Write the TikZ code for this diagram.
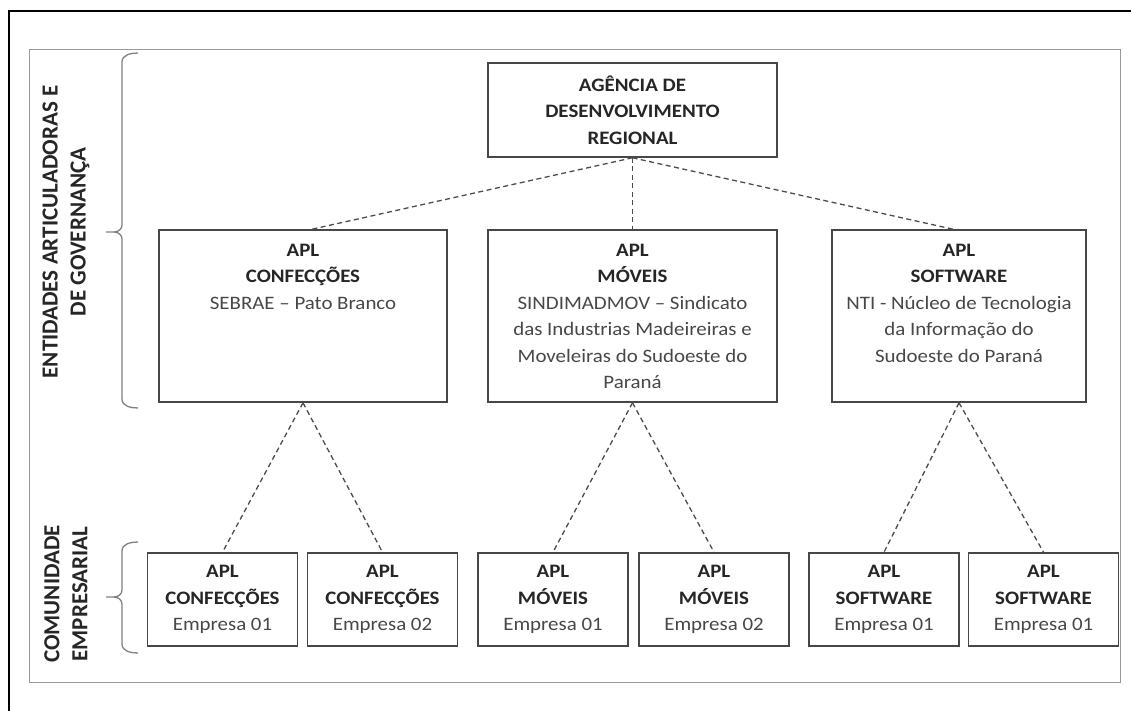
\documentclass[tikz,border=0pt]{standalone}
\usepackage{fontspec}
\setmainfont{Carlito}[FakeStretch=1.1]
\newfontfamily\sidefont{Carlito}
\usetikzlibrary{calc}
\definecolor{boxline}{gray}{0.28}
\definecolor{txtbold}{gray}{0.15}
\definecolor{txtreg}{gray}{0.28}
\definecolor{framegray}{gray}{0.6}
\definecolor{bracegray}{gray}{0.5}
\definecolor{conngray}{gray}{0.3}
\tikzset{
  box/.style={draw=boxline, line width=1.6pt, inner sep=0pt},
  bigbox/.style={box, minimum height=172pt},
  smallbox/.style={box, minimum width=150pt, minimum height=93pt, font=\fontsize{19}{26.5}\selectfont, align=center},
  boxtext/.style={font=\fontsize{19}{26.5}\selectfont, align=center, inner sep=0pt, anchor=north},
  conn/.style={draw=conngray, line width=1.3pt, dash pattern=on 5pt off 3.5pt},
  sidelabel/.style={rotate=90, align=center, font=\sidefont\bfseries\fontsize{23}{28}\selectfont, text=txtbold},
  bracepath/.style={draw=bracegray, line width=1.3pt}
}
\newcommand{\bt}[1]{\textcolor{txtbold}{\textbf{#1}}}
\newcommand{\rt}[1]{\textcolor{txtreg}{#1}}
\begin{document}
\begin{tikzpicture}[x=1pt,y=-1pt]
\useasboundingbox (0,0) rectangle (1131,711);
% outer frames
\draw[line width=2.5pt] (9,711) -- (9,11) -- (1131,11);
\draw[framegray, line width=1pt] (29,50) rectangle (1120,682);

% top box
\node[box, minimum width=289pt, minimum height=94pt, font=\fontsize{19}{26.5}\selectfont, align=center] (agr) at (632.5,110)
  {\bt{AGÊNCIA DE}\\\bt{DESENVOLVIMENTO}\\\bt{REGIONAL}};

% middle boxes
\node[bigbox, minimum width=288pt] (m1) at (303,316) {};
\node[bigbox, minimum width=289pt] (m2) at (632.5,316) {};
\node[bigbox, minimum width=254pt] (m3) at (959,316) {};
\node[boxtext] (m1t) at ($(m1.north)+(0,14.5)$) {\bt{APL}\\\bt{CONFECÇÕES}\\\rt{SEBRAE – Pato Branco}};
\node[boxtext] (m2t) at ($(m2.north)+(0,14.5)$) {\bt{APL}\\\bt{MÓVEIS}\\\rt{SINDIMADMOV – Sindicato}\\\rt{das Industrias Madeireiras e}\\\rt{Moveleiras do Sudoeste do}\\\rt{Paraná}};
\node[boxtext] (m3t) at ($(m3.north)+(0,14.5)$) {\bt{APL}\\\bt{SOFTWARE}\\\rt{NTI - Núcleo de Tecnologia}\\\rt{da Informação do}\\\rt{Sudoeste do Paraná}};

% bottom boxes
\node[smallbox] (b1) at (222.5,599.5) {\bt{APL}\\\bt{CONFECÇÕES}\\\rt{Empresa 01}};
\node[smallbox] (b2) at (382.5,599.5) {\bt{APL}\\\bt{CONFECÇÕES}\\\rt{Empresa 02}};
\node[smallbox] (b3) at (553,599.5) {\bt{APL}\\\bt{MÓVEIS}\\\rt{Empresa 01}};
\node[smallbox] (b4) at (714,599.5) {\bt{APL}\\\bt{MÓVEIS}\\\rt{Empresa 02}};
\node[smallbox] (b5) at (884,599.5) {\bt{APL}\\\bt{SOFTWARE}\\\rt{Empresa 01}};
\node[smallbox] (b6) at (1043.5,599.5) {\bt{APL}\\\bt{SOFTWARE}\\\rt{Empresa 01}};

% connectors
\draw[conn] (agr.south) -- ([xshift=9pt]m1.north);
\draw[conn] (agr.south) -- (m2.north);
\draw[conn] (agr.south) -- ([xshift=-6pt]m3.north);
\draw[conn] (m1.south) -- (b1.north);
\draw[conn] (m1.south) -- (b2.north);
\draw[conn] (m2.south) -- (b3.north);
\draw[conn] (m2.south) -- (b4.north);
\draw[conn] (m3.south) -- (b5.north);
\draw[conn] (m3.south) -- (b6.north);

% braces
\draw[bracepath] (138,53) to[out=180,in=90] (122,62) -- (122,225) to[out=-90,in=0] (114,232) -- (106,232);
\draw[bracepath] (114,232) to[out=0,in=90] (122,239) -- (122,399) to[out=-90,in=180] (138,408);
\draw[bracepath] (138,542) to[out=180,in=90] (122,551) -- (122,590) to[out=-90,in=0] (114,597) -- (106,597);
\draw[bracepath] (114,597) to[out=0,in=90] (122,604) -- (122,644) to[out=-90,in=180] (138,653);

% side labels
\node[sidelabel] (lab1) at (66,232) {ENTIDADES ARTICULADORAS E\\DE GOVERNANÇA};
\node[sidelabel] (lab2) at (66,594) {COMUNIDADE\\EMPRESARIAL};
\end{tikzpicture}
\end{document}
